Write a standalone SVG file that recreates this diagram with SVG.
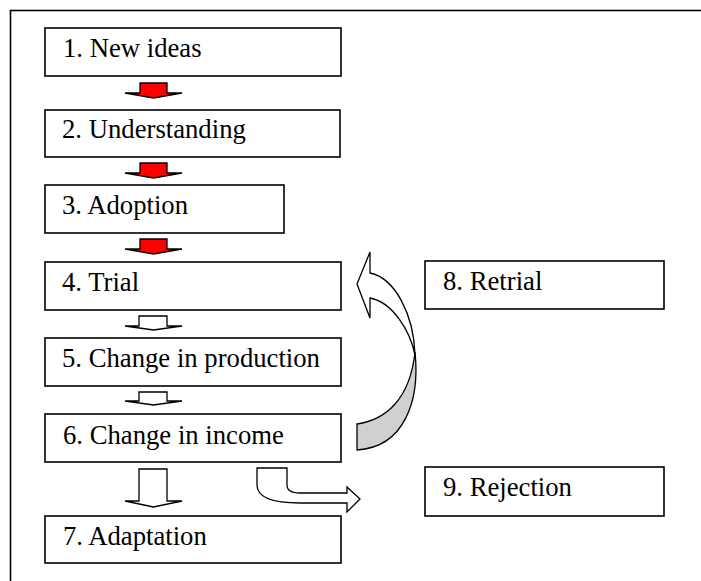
<svg xmlns="http://www.w3.org/2000/svg" width="701" height="581" viewBox="0 0 701 581">
<style>
.box{fill:#fff;stroke:#000;stroke-width:1.6}
.lbl{font-family:"Liberation Serif","Times New Roman",serif;font-size:26.7px;fill:#000}
.red{fill:#ff0000;stroke:#000;stroke-width:1.3;stroke-linejoin:miter}
.wht{fill:#fff;stroke:#000;stroke-width:1.3;stroke-linejoin:miter}
.gry{fill:#d0d0d0;stroke:#000;stroke-width:1.3}
</style>
<rect x="10.5" y="10.5" width="720" height="600" fill="#fff" stroke="#000" stroke-width="1.6"/>
<g id="connectors">
  <path class="red" d="M140,83 H167 V93 H182 L153.5,98 L125,93 H140 Z"/>
  <path class="red" d="M140,163 H167 V173 H182 L153.5,178 L125,173 H140 Z"/>
  <path class="red" d="M140,239 H167 V249 H182 L153.5,254 L125,249 H140 Z"/>
  <path class="wht" d="M139,316 H167 V326 H182 L153.5,330 L125,326 H139 Z"/>
  <path class="wht" d="M139,392 H167 V401 H182 L153.5,405 L125,401 H139 Z"/>
  <path class="wht" d="M139,469 H167 V501 H182 L153.5,507 L125,501 H139 Z"/>
  <path class="wht" d="M257,468 H287 V485 Q287,493 300,493 H347 V487 L360,499 L347,512 V503 H300 C272,503 257,497 257,485 Z"/>
  <path class="gry" d="M357,424 C385,420 410,400 415,352 C420,400 405,447 357,450 Z"/>
  <path class="wht" d="M370,273 C395,278 414,315 415,355 C410,330 392,302 370,298 V318 L357,284 L370,252 Z"/>
</g>
<g id="n1"><rect class="box" x="45" y="28" width="296" height="48"/><text class="lbl" x="63" y="57">1. New ideas</text></g>
<g id="n2"><rect class="box" x="45" y="110" width="295" height="47"/><text class="lbl" x="62" y="138">2. Understanding</text></g>
<g id="n3"><rect class="box" x="45" y="185" width="239" height="48"/><text class="lbl" x="62" y="214">3. Adoption</text></g>
<g id="n4"><rect class="box" x="45" y="262" width="296" height="48"/><text class="lbl" x="62" y="291">4. Trial</text></g>
<g id="n5"><rect class="box" x="45" y="338" width="296" height="48"/><text class="lbl" x="62" y="367">5. Change in production</text></g>
<g id="n6"><rect class="box" x="45" y="414" width="296" height="48"/><text class="lbl" x="63" y="444">6. Change in income</text></g>
<g id="n7"><rect class="box" x="45" y="516" width="296" height="47"/><text class="lbl" x="63" y="545">7. Adaptation</text></g>
<g id="n8"><rect class="box" x="425" y="261" width="239" height="48"/><text class="lbl" x="443" y="290">8. Retrial</text></g>
<g id="n9"><rect class="box" x="425" y="467" width="239" height="49"/><text class="lbl" x="443" y="496">9. Rejection</text></g>
</svg>
